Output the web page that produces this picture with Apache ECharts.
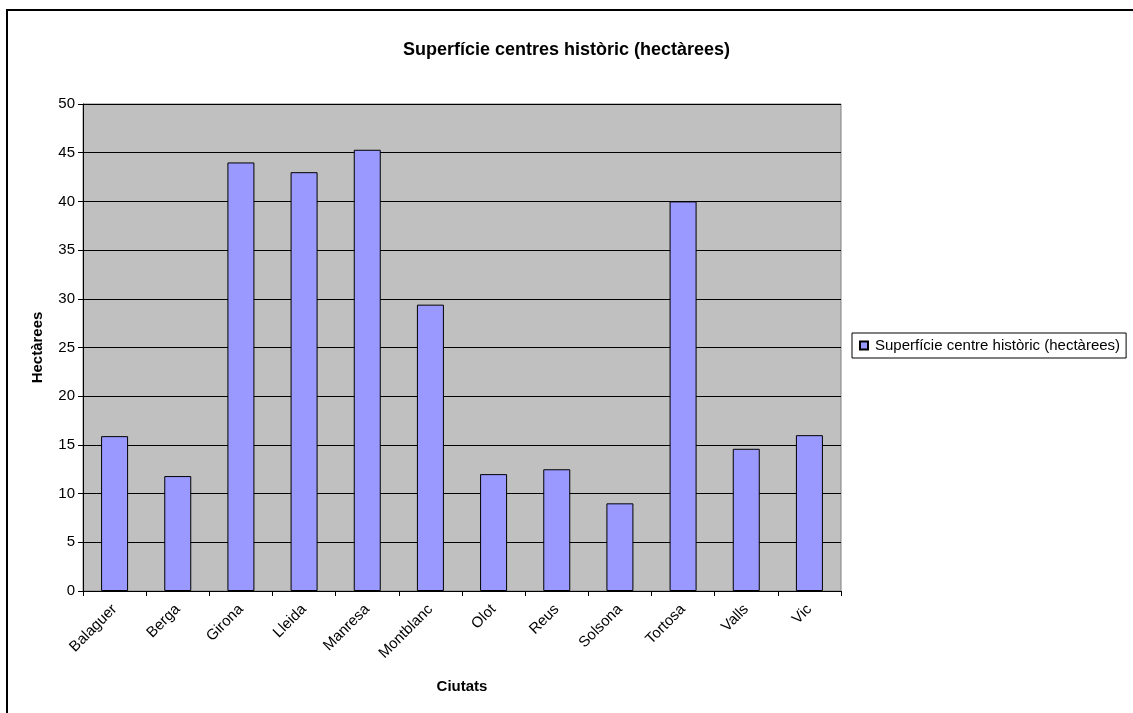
<!DOCTYPE html>
<html><head><meta charset="utf-8">
<script src="https://cdn.jsdelivr.net/npm/echarts@6/dist/echarts.min.js"></script>
<style>html,body{margin:0;padding:0;background:#fff}#c{width:1133px;height:713px}</style>
</head><body><div id="c"></div>
<script>
var categories = ['Balaguer','Berga','Girona','Lleida','Manresa','Montblanc','Olot','Reus','Solsona','Tortosa','Valls','Vic'];
var values = [15.9, 11.8, 44, 43, 45.3, 29.4, 12, 12.5, 9, 40, 14.6, 16];
var seriesName = 'Superfície centre històric (hectàrees)';
var titleText = 'Superfície centres històric (hectàrees)';

var chart = echarts.init(document.getElementById('c'));
var F = 'Liberation Sans, Arial, sans-serif';
chart.setOption({
  animation: false,
  backgroundColor: '#fff',
  title: { text: titleText, left: 'center', top: 36, textStyle: { fontFamily: F, fontSize: 18, fontWeight: 'bold', color: '#000' } },
  graphic: [
    { type: 'rect', shape: { x: 7, y: 10, width: 2000, height: 2000 }, style: { fill: 'none', stroke: '#000', lineWidth: 2 }, z: 100 }
  ],
  legend: {
    data: [seriesName], left: 852, top: 333, orient: 'vertical',
    itemWidth: 8, itemHeight: 8, itemGap: 4,
    padding: [5, 6, 5, 7], borderColor: '#000', borderWidth: 1,
    textStyle: { fontFamily: F, fontSize: 15, color: '#000', padding: [0, 0, 0, 2] },
    icon: 'rect'
  },
  grid: { left: 83, top: 104, right: 292, bottom: 122, containLabel: false, show: true, backgroundColor: '#c0c0c0', borderColor: '#808080', borderWidth: 1 },
  xAxis: {
    type: 'category', data: categories, name: 'Ciutats', nameLocation: 'middle', nameGap: 88,
    nameTextStyle: { fontFamily: F, fontSize: 15, fontWeight: 'bold', color: '#000' },
    axisLine: { lineStyle: { color: '#000', width: 1 } },
    axisTick: { show: true, alignWithLabel: false, length: 5, lineStyle: { color: '#000' } },
    axisLabel: { rotate: 45, interval: 0, fontFamily: F, fontSize: 15, color: '#000', margin: 16 }
  },
  yAxis: {
    type: 'value', min: 0, max: 50, interval: 5, name: 'Hectàrees', nameLocation: 'middle', nameGap: 38,
    nameTextStyle: { fontFamily: F, fontSize: 15, fontWeight: 'bold', color: '#000' },
    axisLine: { show: true, lineStyle: { color: '#000', width: 1 } },
    axisTick: { show: true, length: 5, lineStyle: { color: '#000' } },
    axisLabel: { fontFamily: F, fontSize: 15, color: '#000', margin: 8 },
    splitLine: { show: true, lineStyle: { color: '#000', width: 1 } }
  },
  series: [{
    name: seriesName, type: 'bar', data: values, barWidth: 27,
    itemStyle: { color: '#9999ff', borderColor: '#000', borderWidth: 1 }
  }]
});
</script></body></html>
